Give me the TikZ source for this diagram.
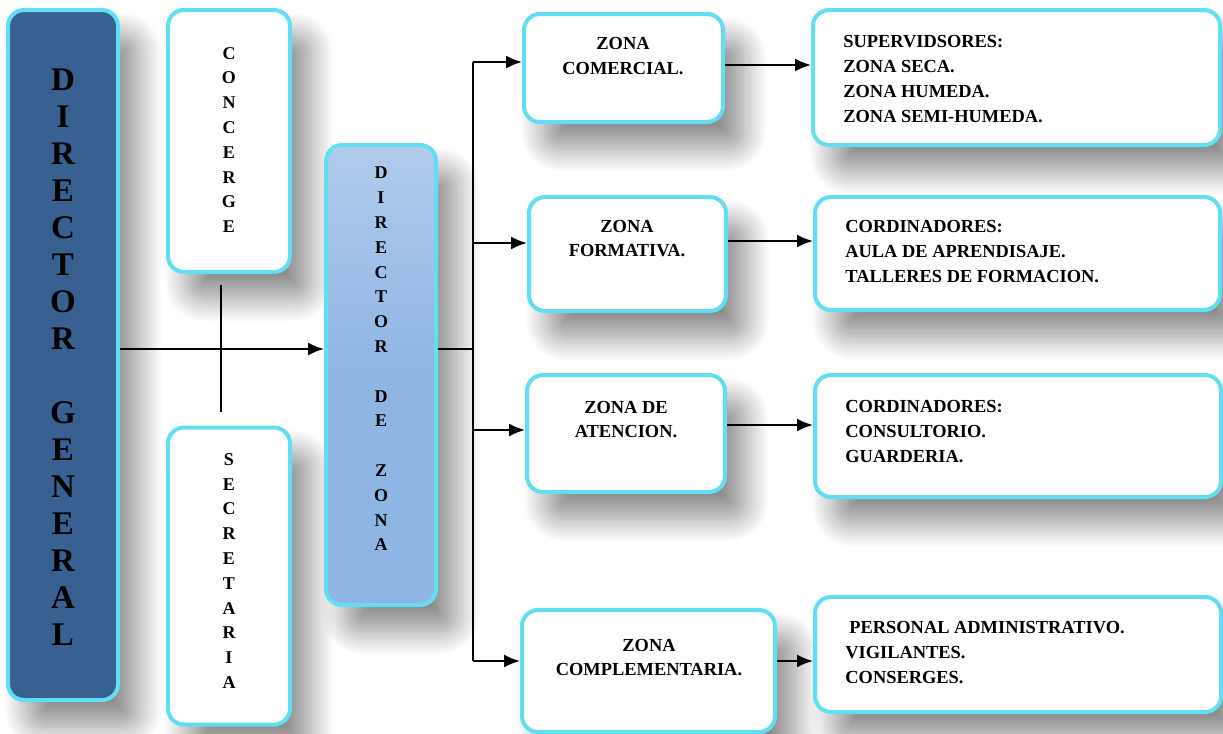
\documentclass[tikz,border=0pt]{standalone}
\usepackage{fontspec}
\setmainfont{Liberation Serif}
\usetikzlibrary{arrows.meta,shadows.blur}
\definecolor{borde}{RGB}{98,222,242}
\definecolor{azulosc}{RGB}{56,96,144}
\definecolor{azulcla}{RGB}{143,181,228}

\begin{document}
\begin{tikzpicture}[x=0.5pt,y=-0.5pt]
\tikzset{caja/.style = {draw=borde, line width=2pt, rounded corners=8pt, fill=white, inner sep=0pt,
    blur shadow={shadow xshift=10pt, shadow yshift=-13pt, shadow blur radius=12pt, shadow blur steps=20, shadow opacity=45}},
  letras/.style = {font=\bfseries\fontsize{9}{12.4}\selectfont, align=center, inner sep=0pt},
  texto/.style = {font=\bfseries\fontsize{9.2}{12.4}\selectfont, inner sep=0pt},
  flecha/.style = {line width=1pt, -{Latex[length=8pt,width=6.5pt]}},
  linea/.style = {line width=1pt}}
\useasboundingbox (0,0) rectangle (1223,734);

\node[caja, fill=azulosc, minimum width=55pt, minimum height=345pt] (dg) at (63,355) {};
\node[caja, minimum width=61pt, minimum height=131pt] (conc) at (229,141) {};
\node[caja, minimum width=61pt, minimum height=148.5pt] (secr) at (229,576) {};
\node[caja, top color=azulcla!70!white, bottom color=azulcla, middle color=azulcla, minimum width=55pt, minimum height=230pt] (dz) at (381,375) {};

\node[caja, minimum width=99.5pt, minimum height=54pt] (zcom) at (623.5,68) {};
\node[caja, minimum width=98.5pt, minimum height=57pt] (zfor) at (627.5,254) {};
\node[caja, minimum width=99pt, minimum height=58.5pt] (zate) at (626,433.5) {};
\node[caja, minimum width=126.5pt, minimum height=61pt] (zcmp) at (648.5,671) {};

\node[caja, minimum width=203.5pt, minimum height=67.5pt] (rsup) at (1016.5,77.5) {};
\node[caja, minimum width=202.5pt, minimum height=56.5pt] (rfor) at (1017.5,253.5) {};
\node[caja, minimum width=203pt, minimum height=61pt] (rate) at (1018,436) {};
\node[caja, minimum width=203pt, minimum height=57.5pt] (rcmp) at (1018,654.5) {};

\node[letras, font=\bfseries\fontsize{16.5}{18.5}\selectfont] (tdg) at (63,357)
  {D\\I\\R\\E\\C\\T\\O\\R\\~\\G\\E\\N\\E\\R\\A\\L};
\node[letras] (tconc) at (229,140) {C\\O\\N\\C\\E\\R\\G\\E};
\node[letras] (tsecr) at (229,571) {S\\E\\C\\R\\E\\T\\A\\R\\I\\A};
\node[letras] (tdz) at (381,359) {D\\I\\R\\E\\C\\T\\O\\R\\~\\D\\E\\~\\Z\\O\\N\\A};

\node[texto, align=center] (tzcom) at (623,56) {ZONA\\COMERCIAL.};
\node[texto, align=center] (tzfor) at (627,238.5) {ZONA\\FORMATIVA.};
\node[texto, align=center] (tzate) at (626,419.5) {ZONA DE\\ATENCION.};
\node[texto, align=center] (tzcmp) at (649,657.5) {ZONA\\COMPLEMENTARIA.};

\node[texto, align=left, anchor=west] (trsup) at (843,79) {SUPERVIDSORES:\\ZONA SECA.\\ZONA HUMEDA.\\ZONA SEMI-HUMEDA.};
\node[texto, align=left, anchor=west] (trfor) at (845,251.5) {CORDINADORES:\\AULA DE APRENDISAJE.\\TALLERES DE FORMACION.};
\node[texto, align=left, anchor=west] (trate) at (845,431.5) {CORDINADORES:\\CONSULTORIO.\\GUARDERIA.};
\node[texto, align=left, anchor=west] (trcmp) at (845,652.5) {\hspace{2pt}PERSONAL ADMINISTRATIVO.\\VIGILANTES.\\CONSERGES.};

\coordinate (eje) at (221,349);
\coordinate (cup) at (221,285);
\coordinate (cdn) at (221,412);
\coordinate (tronco) at (473,349);
\coordinate (b1) at (473,62);
\coordinate (b2) at (473,243);
\coordinate (b3) at (473,430);
\coordinate (b4) at (473,661);
\coordinate (a1) at (800,65);
\coordinate (a2) at (800,241);
\coordinate (a3) at (800,425);
\coordinate (a4) at (800,661);

\draw[linea] (cup) -- (cdn);
\draw[flecha] (dg.east |- eje) -- (dz.west |- eje);
\draw[linea] (dz.east |- tronco) -- (tronco);
\draw[linea] (b1) -- (b4);
\draw[flecha] (b1) -- (zcom.west |- b1);
\draw[flecha] (b2) -- (zfor.west |- b2);
\draw[flecha] (b3) -- (zate.west |- b3);
\draw[flecha] (b4) -- (zcmp.west |- b4);

\draw[flecha] (zcom.east |- a1) -- (rsup.west |- a1);
\draw[flecha] (zfor.east |- a2) -- (rfor.west |- a2);
\draw[flecha] (zate.east |- a3) -- (rate.west |- a3);
\draw[flecha] (zcmp.east |- a4) -- (rcmp.west |- a4);

\end{tikzpicture}
\end{document}
